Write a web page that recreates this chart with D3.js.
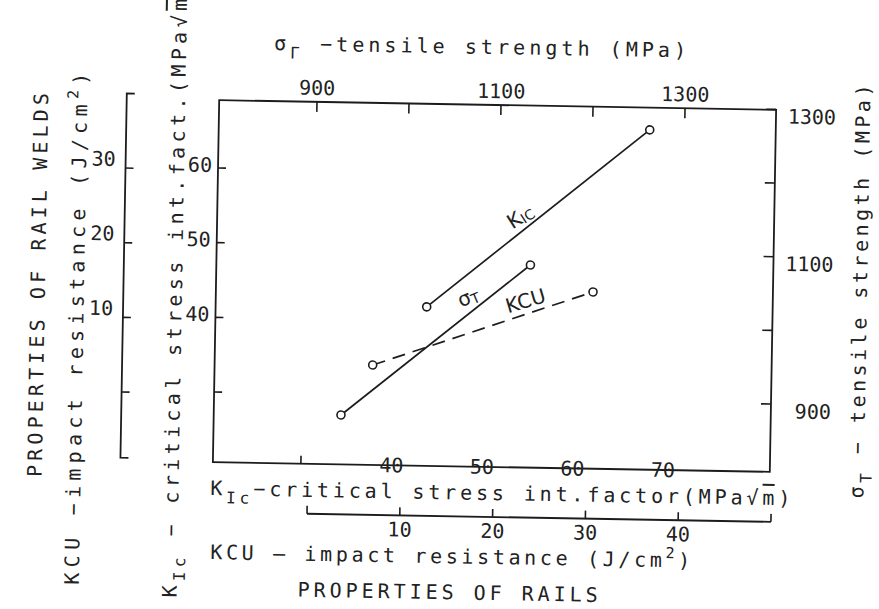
<html>
<head>
  <meta charset="UTF-8">
  <title>Properties of rails vs properties of rail welds</title>
  <script src="https://d3js.org/d3.v7.min.js"></script>
  <style>
    body { margin: 0; background: #fff; }
    svg text { font-family: "DejaVu Sans Mono", monospace; fill: #222; }
    .tick-label { font-size: 20px; }
    .title { font-size: 20px; }
    .hand { font-family: "DejaVu Sans", sans-serif; font-size: 20px; }
  </style>
</head>
<body>

<svg id="chart" width="879" height="609"></svg>

<script>
    // end points of each line: value for rails (x) and for rail welds (y)
    const kicRails   = [43.6, 67.9];
    const kicWelds   = [41.9, 66.1];
    const sigmaRails = [932, 1135];
    const sigmaWelds = [875, 1083];
    const kcuRails   = [6.8, 30.4];
    const kcuWelds   = [4.2, 14.5];

    // axis ticks and labels
    const sigmaTicks  = [900, 1000, 1100, 1200, 1300];
    const sigmaLabels = [900, 1100, 1300];
    const kicXTicks   = [30];
    const kicXLabels  = [40, 50, 60, 70];
    const kicYTicks   = [30, 40, 50, 60];
    const kicYLabels  = [40, 50, 60];
    const kcuYTicks   = [0, 10, 20, 30];
    const kcuYLabels  = [10, 20, 30];
    const kcuXTicks   = [0, 10, 20, 30, 40, 50];
    const kcuXLabels  = [10, 20, 30, 40];

    const ink = "#1c1c1c";
    const svg = d3.select("#chart");
    // the scanned page is turned by about one degree
    const g = svg.append("g").attr("transform", "rotate(1, 494.5, 286)");

    const box = { left: 216, right: 773, top: 105, bottom: 467 };

    const xSigma = d3.scaleLinear().domain([900, 1300]).range([313.8, 681.9]);
    const ySigma = d3.scaleLinear().domain([900, 1300]).range([399.2, 104.5]);
    const xKic   = d3.scaleLinear().domain([30, 70]).range([304, 666]);
    const yKic   = d3.scaleLinear().domain([30, 60]).range([396.9, 172.8]);
    const xKcu   = d3.scaleLinear().domain([0, 50]).range([311, 775]);
    const yKcu   = d3.scaleLinear().domain([0, 30]).range([398.5, 174.5]);
    const outerX = 123.5;
    const kcuAxisY = 517;

    g.append("rect")
        .attr("x", box.left).attr("y", box.top)
        .attr("width", box.right - box.left).attr("height", box.bottom - box.top)
        .attr("fill", "none").attr("stroke", ink).attr("stroke-width", 1.8);

    // top axis: sigma of rails
    g.selectAll("line.top").data(sigmaTicks).join("line")
        .attr("x1", d => xSigma(d)).attr("x2", d => xSigma(d))
        .attr("y1", box.top).attr("y2", box.top + 10)
        .attr("stroke", ink).attr("stroke-width", 1.6);
    g.selectAll("text.top").data(sigmaLabels).join("text")
        .attr("class", "tick-label")
        .attr("x", d => xSigma(d)).attr("y", box.top - 7)
        .attr("text-anchor", "middle").text(d => d);

    // right axis: sigma of welds
    g.selectAll("line.right").data(sigmaTicks).join("line")
        .attr("x1", box.right - 10).attr("x2", box.right)
        .attr("y1", d => ySigma(d)).attr("y2", d => ySigma(d))
        .attr("stroke", ink).attr("stroke-width", 1.6);
    g.selectAll("text.right").data(sigmaLabels).join("text")
        .attr("class", "tick-label")
        .attr("x", box.right + 60).attr("y", d => ySigma(d) + 14)
        .attr("text-anchor", "end").text(d => d);

    // inner left axis: KIc of welds
    g.selectAll("line.kicy").data(kicYTicks).join("line")
        .attr("x1", box.left).attr("x2", box.left + 8)
        .attr("y1", d => yKic(d)).attr("y2", d => yKic(d))
        .attr("stroke", ink).attr("stroke-width", 1.6);
    g.selectAll("text.kicy").data(kicYLabels).join("text")
        .attr("class", "tick-label")
        .attr("x", box.left - 6).attr("y", d => yKic(d) + 4)
        .attr("text-anchor", "end").text(d => d);

    // bottom of the box: KIc of rails
    g.selectAll("line.kicx").data(kicXTicks).join("line")
        .attr("x1", d => xKic(d)).attr("x2", d => xKic(d))
        .attr("y1", box.bottom).attr("y2", box.bottom - 8)
        .attr("stroke", ink).attr("stroke-width", 1.6);
    g.selectAll("text.kicx").data(kicXLabels).join("text")
        .attr("class", "tick-label")
        .attr("x", d => xKic(d)).attr("y", box.bottom + 7)
        .attr("text-anchor", "middle").text(d => d);

    // outer left axis: KCU of welds
    const kcuTop = yKcu(40), kcuBottom = yKcu(-8.8);
    g.append("path")
        .attr("d", `M${outerX + 8},${kcuTop}H${outerX}V${kcuBottom}H${outerX + 8}`)
        .attr("fill", "none").attr("stroke", ink).attr("stroke-width", 1.8);
    g.selectAll("line.kcuy").data(kcuYTicks).join("line")
        .attr("x1", outerX).attr("x2", outerX + 8)
        .attr("y1", d => yKcu(d)).attr("y2", d => yKcu(d))
        .attr("stroke", ink).attr("stroke-width", 1.6);
    g.selectAll("text.kcuy").data(kcuYLabels).join("text")
        .attr("class", "tick-label")
        .attr("x", outerX - 10).attr("y", d => yKcu(d) - 2)
        .attr("text-anchor", "end").text(d => d);

    // lower axis: KCU of rails
    g.append("line")
        .attr("x1", xKcu(0)).attr("x2", xKcu(50))
        .attr("y1", kcuAxisY).attr("y2", kcuAxisY)
        .attr("stroke", ink).attr("stroke-width", 1.8);
    g.selectAll("line.kcux").data(kcuXTicks).join("line")
        .attr("x1", d => xKcu(d)).attr("x2", d => xKcu(d))
        .attr("y1", kcuAxisY).attr("y2", kcuAxisY - 8)
        .attr("stroke", ink).attr("stroke-width", 1.6);
    g.selectAll("text.kcux").data(kcuXLabels).join("text")
        .attr("class", "tick-label")
        .attr("x", d => xKcu(d)).attr("y", kcuAxisY + 21)
        .attr("text-anchor", "middle").text(d => d);

    // axis titles
    function title(x, y, len, angle, parts) {
        const t = g.append("text").attr("class", "title")
            .attr("transform", `translate(${x},${y}) rotate(${angle})`)
            .attr("textLength", len).attr("lengthAdjust", "spacing");
        parts.forEach(p => {
            const s = t.append("tspan").text(p.t);
            if (p.dy) s.attr("dy", p.dy);
            if (p.size) s.style("font-size", p.size);
            if (p.over) s.style("text-decoration", "overline");
        });
        return t;
    }

    title(270, 54, 412, 0, [
        { t: "σ" }, { t: "Γ", dy: 8, size: "16px" }, { t: " −tensile strength (MPa)", dy: -8 }]);
    title(867, 492, 414, -90, [
        { t: "σ" }, { t: "T", dy: 8, size: "16px" }, { t: " − tensile strength (MPa)", dy: -8 }]);
    title(45, 485, 384, -90, [{ t: "PROPERTIES OF RAIL WELDS" }]);
    title(84, 592, 512, -90, [
        { t: "KCU −impact resistance (J/cm" }, { t: "2", dy: -9, size: "15px" }, { t: ")", dy: 9 }]);
    title(182, 603, 615, -90, [
        { t: "K" }, { t: "Ic", dy: 8, size: "16px" },
        { t: " − critical stress int.fact.(MPa√", dy: -8 }, { t: "m", over: true }, { t: ")" }]);
    title(214, 500, 580, 0, [
        { t: "K" }, { t: "Ic", dy: 8, size: "16px" },
        { t: "−critical stress int.factor(MPa√", dy: -8 }, { t: "m", over: true }, { t: ")" }]);
    title(215, 564, 480, 0, [
        { t: "KCU — impact resistance  (J/cm" }, { t: "2", dy: -9, size: "15px" }, { t: ")", dy: 9 }]);
    title(303, 600, 300, 0, [{ t: "PROPERTIES OF RAILS" }]);

    // the three lines
    const series = [
        { name: "kic", xs: kicRails, ys: kicWelds, x: xKic, y: yKic, dash: null },
        { name: "sigma", xs: sigmaRails, ys: sigmaWelds, x: xSigma, y: ySigma, dash: null },
        { name: "kcu", xs: kcuRails, ys: kcuWelds, x: xKcu, y: yKcu, dash: "13 8" }
    ];
    series.forEach(s => {
        const pts = s.xs.map((v, i) => [s.x(v), s.y(s.ys[i])]);
        s.pts = pts;
        g.append("path").datum(pts)
            .attr("d", d3.line())
            .attr("fill", "none").attr("stroke", ink).attr("stroke-width", 1.7)
            .attr("stroke-dasharray", s.dash);
        g.selectAll("circle." + s.name).data(pts).join("circle")
            .attr("class", s.name)
            .attr("cx", d => d[0]).attr("cy", d => d[1]).attr("r", 4)
            .attr("fill", "#fff").attr("stroke", ink).attr("stroke-width", 1.6);
    });

    // hand written names along the lines
    const names = [
        { s: 0, t: 0.45, off: 6, k: 0.85, main: "K", sub: "IC" },
        { s: 1, t: 0.70, off: 7, k: 0.6, main: "σ", sub: "T" },
        { s: 2, t: 0.71, off: 6, k: 0.9, main: "KCU", sub: "" }
    ];
    names.forEach(n => {
        const [a, b] = series[n.s].pts;
        const px = a[0] + (b[0] - a[0]) * n.t, py = a[1] + (b[1] - a[1]) * n.t;
        const ang = Math.atan2(b[1] - a[1], b[0] - a[0]) * 180 / Math.PI;
        const t = g.append("text").attr("class", "hand")
            .attr("transform", `translate(${px},${py}) rotate(${ang * n.k}) translate(0,${-n.off})`)
            .attr("text-anchor", "middle");
        t.append("tspan").text(n.main);
        if (n.sub) t.append("tspan").attr("dy", 2).style("font-size", "14px").text(n.sub);
    });
</script>

</body>
</html>
